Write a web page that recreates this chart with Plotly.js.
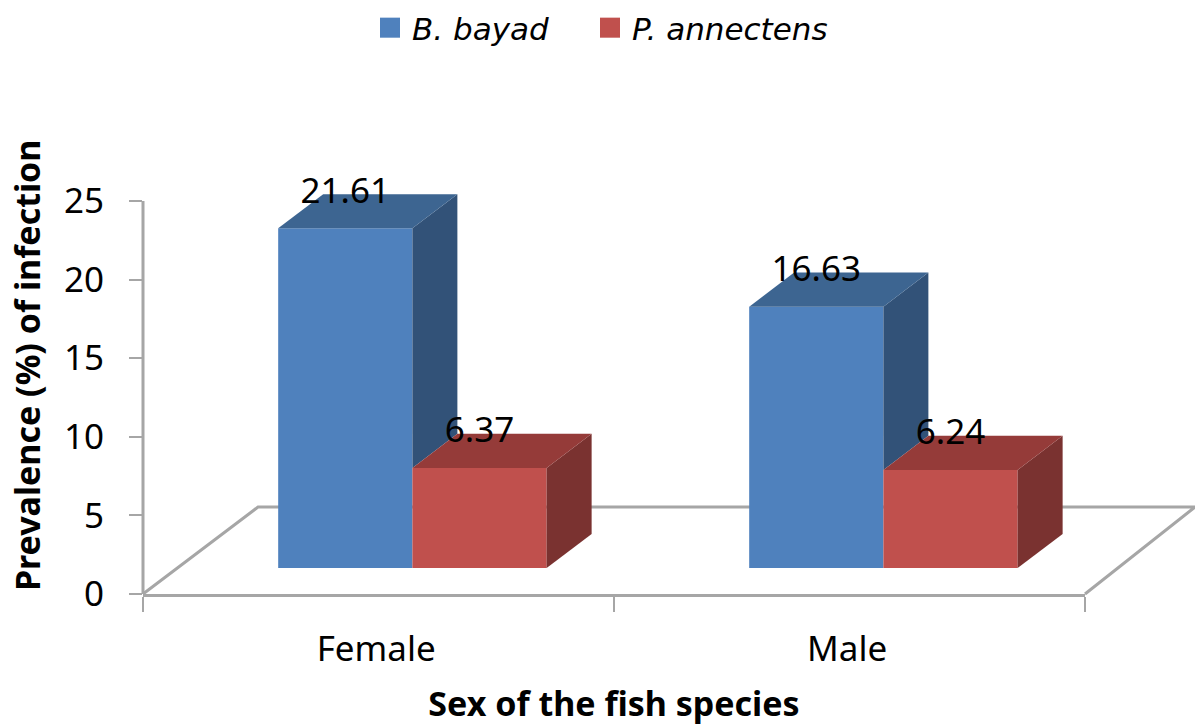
<!DOCTYPE html>
<html>
<head>
<meta charset="utf-8">
<script src="https://cdn.plot.ly/plotly-3.0.1.min.js"></script>
<style>
html,body{margin:0;padding:0;background:#fff}
#chart{width:1195px;height:726px}
.legendpoints path{transform:translate(18px,0) scale(1.67)}
.legend .scrollbox{clip-path:none !important}
</style>
</head>
<body>
<div id="chart"></div>
<script>
var categories = ["Female", "Male"];
var bBayad = [21.61, 16.63];
var pAnnectens = [6.37, 6.24];
var valueLabels = [["21.61", "16.63"], ["6.37", "6.24"]];
var yTicks = [0, 5, 10, 15, 20, 25];

var catPos = [0.5, 1.5];
var barWidth = 0.285;
var offsets = [-0.213, 0.072];
var depthX = 0.0955;
var depthY = 2.17;
var base = 1.65;
var FONT = '"Noto Sans", sans-serif';
var AXIS = '#A6A6A6';
var wallTop = 393 / 444;

function barTrace(name, vals, off, color) {
  return {type: 'bar', name: name, x: catPos, y: vals, base: base, width: barWidth, offset: off,
    marker: {color: color, line: {width: 0}}, hoverinfo: 'skip', showlegend: true};
}
function face(xs, ys, color) {
  return {type: 'scatter', mode: 'lines', x: xs, y: ys, fill: 'toself', fillcolor: color,
    line: {width: 0, color: color}, hoverinfo: 'skip', showlegend: false};
}

var traces = [
  barTrace('B. bayad', bBayad, offsets[0], '#4F81BD'),
  barTrace('P. annectens', pAnnectens, offsets[1], '#C0504D')
];

catPos.forEach(function (c, i) {
  var bl = c + offsets[0], br = bl + barWidth, bt = base + bBayad[i], rt = base + pAnnectens[i];
  traces.push(face([br, br + depthX, br + depthX, br, br], [bt, bt + depthY, rt + depthY, rt, bt], '#325278'));
  traces.push(face([bl, bl + depthX, br + depthX, br, bl], [bt, bt + depthY, bt + depthY, bt, bt], '#3D6591'));
  var rl = c + offsets[1], rr = rl + barWidth;
  traces.push(face([rr, rr + depthX, rr + depthX, rr, rr], [rt, rt + depthY, base + depthY, base, rt], '#7A3230'));
  traces.push(face([rl, rl + depthX, rr + depthX, rr, rl], [rt, rt + depthY, rt + depthY, rt, rt], '#953B39'));
});

[[bBayad, offsets[0]], [pAnnectens, offsets[1]]].forEach(function (s, k) {
  traces.push({type: 'scatter', mode: 'text', showlegend: false, hoverinfo: 'skip',
    x: catPos.map(function (c) { return c + s[1] + barWidth / 2; }),
    y: s[0].map(function (v) { return base + v + 2.2; }),
    text: valueLabels[k], textposition: 'middle center',
    textfont: {family: FONT, size: 35, color: '#000'}});
});

var layout = {
  width: 1195, height: 726, paper_bgcolor: '#fff', plot_bgcolor: 'rgba(0,0,0,0)',
  margin: {l: 143, r: 110, t: 150, b: 132, pad: 0},
  barmode: 'overlay',
  font: {family: FONT, color: '#000'},
  xaxis: {
    range: [0, 2], tickmode: 'array', tickvals: catPos.map(function (c) { return c - 0.005; }), ticktext: categories, ticks: '',
    ticklabelstandoff: 22,
    tickfont: {family: FONT, size: 35, color: '#000'},
    showgrid: false, zeroline: false, showline: true, linecolor: AXIS, linewidth: 3,
    minor: {tickmode: 'array', tickvals: [0, 1, 2], ticks: 'outside', ticklen: 15, tickwidth: 2, tickcolor: AXIS, showgrid: false},
    title: {text: 'Sex of the fish species', standoff: 40, font: {family: FONT, size: 34, color: '#000', weight: 700}}
  },
  yaxis: {
    range: [0, 444 / 15.72], tickmode: 'array', tickvals: yTicks, ticks: 'outside', ticklen: 13, tickwidth: 2, tickcolor: AXIS,
    ticklabelstandoff: 18,
    tickfont: {family: FONT, size: 35, color: '#000'},
    showgrid: false, zeroline: false, showline: false
  },
  shapes: [{
    type: 'path', xref: 'paper', yref: 'paper', layer: 'below',
    path: 'M 0 0 L 0.1221 0.196 L 1.1168 0.196 L 1 0',
    line: {color: AXIS, width: 3}, fillcolor: 'rgba(0,0,0,0)'
  }, {
    type: 'line', xref: 'paper', yref: 'paper', layer: 'below',
    x0: 0, x1: 0, y0: 0, y1: wallTop, line: {color: AXIS, width: 3}
  }],
  annotations: [{
    text: 'Prevalence (%) of infection', xref: 'paper', yref: 'paper', x: -0.123, y: 0.5158,
    textangle: -90, showarrow: false, xanchor: 'center', yanchor: 'middle',
    font: {family: FONT, size: 34, color: '#000', weight: 700}
  }],
  legend: {
    orientation: 'h', xref: 'container', yref: 'container', x: 0.3113, y: 0.9614, xanchor: 'left', yanchor: 'middle',
    entrywidth: 175, entrywidthmode: 'pixels',
    font: {family: '"DejaVu Sans", sans-serif', size: 31, color: '#000', style: 'italic'},
    bgcolor: 'rgba(0,0,0,0)', itemclick: false, itemdoubleclick: false
  },
  showlegend: true
};

Plotly.newPlot('chart', traces, layout, {displayModeBar: false, staticPlot: true});
</script>
</body>
</html>
